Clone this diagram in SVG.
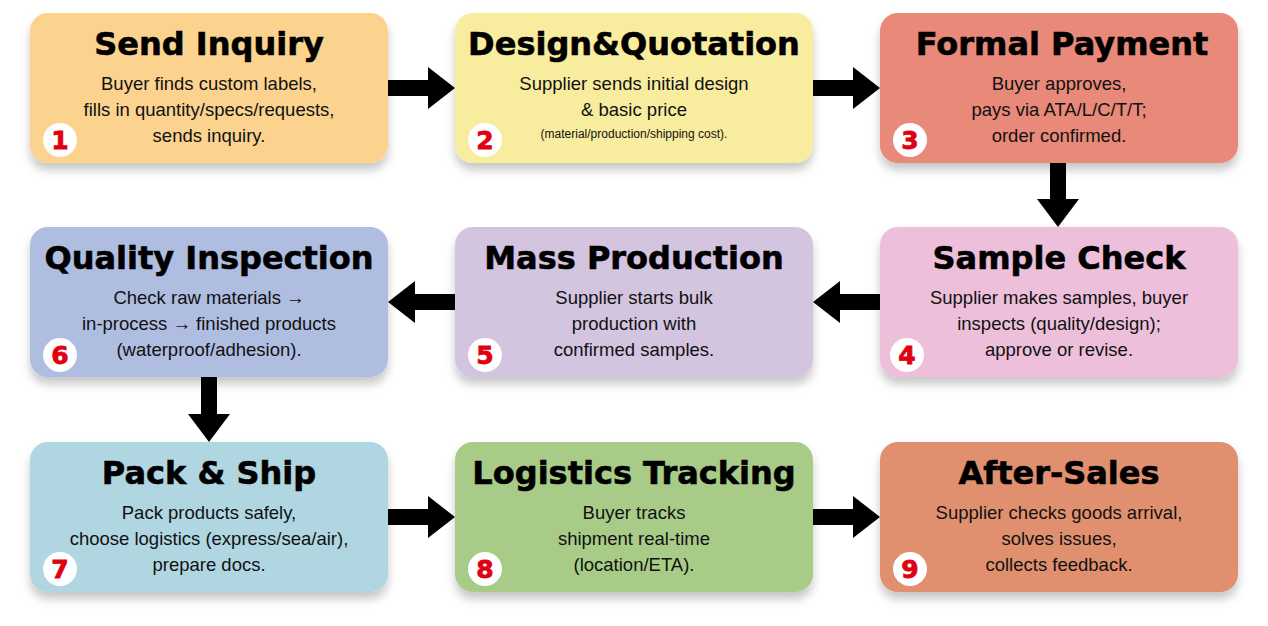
<svg xmlns="http://www.w3.org/2000/svg" width="1268" height="626" viewBox="0 0 1268 626">
<defs>
<filter id="sh" x="-10%" y="-10%" width="120%" height="130%"><feDropShadow dx="0" dy="7" stdDeviation="5" flood-color="#000" flood-opacity="0.22"/></filter>
<style>
.b{filter:url(#sh)}
.t{font-family:"DejaVu Sans","Liberation Sans",Arial,sans-serif;font-weight:bold;font-size:32px;text-anchor:middle;fill:#000;stroke:#000;stroke-width:0.6px}
.d{font-family:"Liberation Sans",Arial,sans-serif;font-size:18.5px;text-anchor:middle;fill:#111}
.s{font-size:12px}
.n{font-family:"DejaVu Sans","Liberation Sans",Arial,sans-serif;font-weight:bold;font-size:25px;text-anchor:middle;fill:#e00012;stroke:#e00012;stroke-width:0.8px}
.c{fill:#fff}
</style>
</defs>
<rect width="1268" height="626" fill="#fff"/>
<g id="connectors" fill="#000">
<polygon points="388,80 428,80 428,67 455,88 428,109 428,96 388,96"/>
<polygon points="813,80 853,80 853,67 880,88 853,109 853,96 813,96"/>
<polygon points="1050,163 1066,163 1066,199 1079,199 1058,227 1037,199 1050,199"/>
<polygon points="880,294 840,294 840,281 813,302 840,323 840,310 880,310"/>
<polygon points="455,294 415,294 415,281 388,302 415,323 415,310 455,310"/>
<polygon points="201,377 217,377 217,414 230,414 209,442 188,414 201,414"/>
<polygon points="388,509 428,509 428,496 455,517 428,538 428,525 388,525"/>
<polygon points="813,509 853,509 853,496 880,517 853,538 853,525 813,525"/>
</g>
<g id="n1"><rect class="b" x="30" y="13" width="358" height="150" rx="18" fill="#FBD38F"/><text class="t" x="209" y="55">Send Inquiry</text><text class="d" x="209" y="90">Buyer finds custom labels,</text><text class="d" x="209" y="116">fills in quantity/specs/requests,</text><text class="d" x="209" y="142">sends inquiry.</text><circle class="c" cx="60" cy="140" r="17"/><text class="n" x="60" y="149">1</text></g>
<g id="n2"><rect class="b" x="455" y="13" width="358" height="150" rx="18" fill="#F8EC9E"/><text class="t" x="634" y="55">Design&amp;Quotation</text><text class="d" x="634" y="90">Supplier sends initial design</text><text class="d" x="634" y="116">&amp; basic price</text><text class="d s" x="634" y="138">(material/production/shipping cost).</text><circle class="c" cx="485" cy="140" r="17"/><text class="n" x="485" y="149">2</text></g>
<g id="n3"><rect class="b" x="880" y="13" width="358" height="150" rx="18" fill="#E8897A"/><text class="t" x="1062" y="55">Formal Payment</text><text class="d" x="1059" y="90">Buyer approves,</text><text class="d" x="1059" y="116">pays via ATA/L/C/T/T;</text><text class="d" x="1059" y="142">order confirmed.</text><circle class="c" cx="910" cy="140" r="17"/><text class="n" x="910" y="149">3</text></g>
<g id="n4"><rect class="b" x="880" y="227" width="358" height="150" rx="18" fill="#EDBFDB"/><text class="t" x="1059" y="269">Sample Check</text><text class="d" x="1059" y="304">Supplier makes samples, buyer</text><text class="d" x="1059" y="330">inspects (quality/design);</text><text class="d" x="1059" y="356">approve or revise.</text><circle class="c" cx="907" cy="355" r="17"/><text class="n" x="907" y="364">4</text></g>
<g id="n5"><rect class="b" x="455" y="227" width="358" height="150" rx="18" fill="#D3C4E0"/><text class="t" x="634" y="269">Mass Production</text><text class="d" x="634" y="304">Supplier starts bulk</text><text class="d" x="634" y="330">production with</text><text class="d" x="634" y="356">confirmed samples.</text><circle class="c" cx="485" cy="355" r="17"/><text class="n" x="485" y="364">5</text></g>
<g id="n6"><rect class="b" x="30" y="227" width="358" height="150" rx="18" fill="#AFBDE0"/><text class="t" x="209" y="269">Quality Inspection</text><text class="d" x="209" y="304">Check raw materials →</text><text class="d" x="209" y="330">in-process → finished products</text><text class="d" x="209" y="356">(waterproof/adhesion).</text><circle class="c" cx="60" cy="355" r="17"/><text class="n" x="60" y="364">6</text></g>
<g id="n7"><rect class="b" x="30" y="442" width="358" height="150" rx="18" fill="#B0D6E2"/><text class="t" x="209" y="484">Pack &amp; Ship</text><text class="d" x="209" y="519">Pack products safely,</text><text class="d" x="209" y="545">choose logistics (express/sea/air),</text><text class="d" x="209" y="571">prepare docs.</text><circle class="c" cx="60" cy="569" r="17"/><text class="n" x="60" y="578">7</text></g>
<g id="n8"><rect class="b" x="455" y="442" width="358" height="150" rx="18" fill="#A8CC88"/><text class="t" x="634" y="484">Logistics Tracking</text><text class="d" x="634" y="519">Buyer tracks</text><text class="d" x="634" y="545">shipment real-time</text><text class="d" x="634" y="571">(location/ETA).</text><circle class="c" cx="485" cy="569" r="17"/><text class="n" x="485" y="578">8</text></g>
<g id="n9"><rect class="b" x="880" y="442" width="358" height="150" rx="18" fill="#E0906E"/><text class="t" x="1059" y="484">After-Sales</text><text class="d" x="1059" y="519">Supplier checks goods arrival,</text><text class="d" x="1059" y="545">solves issues,</text><text class="d" x="1059" y="571">collects feedback.</text><circle class="c" cx="910" cy="569" r="17"/><text class="n" x="910" y="578">9</text></g>
</svg>
